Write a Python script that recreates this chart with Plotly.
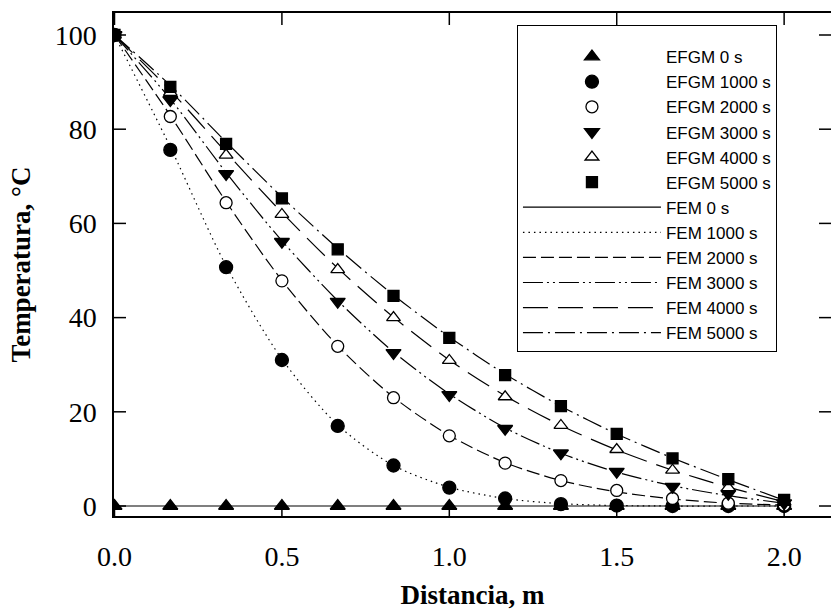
import plotly.graph_objects as go

# Node positions along the bar (m)
distancia = [0.0, 0.1667, 0.3333, 0.5, 0.6667, 0.8333, 1.0,
             1.1667, 1.3333, 1.5, 1.6667, 1.8333, 2.0]

# EFGM temperatures (°C) at each node
efgm_0 = [0, 0, 0, 0, 0, 0, 0, 0, 0, 0, 0, 0, 0]
efgm_1000 = [100, 75.6, 50.7, 31.0, 17.0, 8.6, 3.9, 1.6, 0.4, 0.1, 0.0, 0.0, 0.0]
efgm_2000 = [100, 82.7, 64.4, 47.8, 33.9, 23.0, 14.9, 9.1, 5.4, 3.3, 1.6, 0.6, 0.2]
efgm_3000 = [100, 86.2, 70.5, 56.1, 43.4, 32.5, 23.6, 16.4, 11.2, 7.3, 4.1, 2.6, 0.6]
efgm_4000 = [100, 87.8, 74.5, 61.9, 50.2, 40.0, 30.9, 23.2, 17.1, 12.0, 7.6, 3.9, 0.9]
efgm_5000 = [100, 89.0, 76.9, 65.3, 54.5, 44.6, 35.7, 27.8, 21.2, 15.3, 10.1, 5.7, 1.3]

# FEM temperatures (°C) at each node
fem_0 = [0, 0, 0, 0, 0, 0, 0, 0, 0, 0, 0, 0, 0]
fem_1000 = [100, 76.2, 51.0, 31.2, 17.2, 8.6, 4.0, 1.6, 0.5, 0.1, 0.0, 0.0, 0.0]
fem_2000 = [100, 82.9, 64.6, 47.9, 34.0, 23.1, 15.0, 9.2, 5.4, 3.0, 1.5, 0.6, 0.2]
fem_3000 = [100, 86.4, 70.8, 56.3, 43.6, 32.7, 23.8, 16.6, 11.2, 7.2, 4.3, 2.2, 0.6]
fem_4000 = [100, 88.2, 75.1, 62.3, 50.5, 40.1, 31.0, 23.4, 17.1, 11.9, 7.6, 4.0, 0.9]
fem_5000 = [100, 89.3, 77.3, 65.6, 54.7, 44.8, 35.9, 28.0, 21.2, 15.3, 10.2, 5.6, 1.2]

x_ticks = [0.0, 0.5, 1.0, 1.5, 2.0]
x_tick_text = ["0.0", "0.5", "1.0", "1.5", "2.0"]
y_ticks = [0, 20, 40, 60, 80, 100]
y_tick_text = ["0", "20", "40", "60", "80", "100"]

BLACK = "black"
SERIF = "Liberation Serif"
SANS = "Liberation Sans"

WIDTH, HEIGHT = 831, 610
MARGIN = dict(l=114, r=0, t=13, b=94)
TICK_LEN = 12  # px, tick marks point into the plot area on every side

fig = go.Figure()

fem_series = [
    ("FEM 0 s", fem_0, "solid"),
    ("FEM 1000 s", fem_1000, "1.5px,4px"),
    ("FEM 2000 s", fem_2000, "13px,5px"),
    ("FEM 3000 s", fem_3000, "20px,4px,2px,4px,2px,4px"),
    ("FEM 4000 s", fem_4000, "25px,10px"),
    ("FEM 5000 s", fem_5000, "20px,5px,2px,5px"),
]
for k, (name, vals, dash) in enumerate(fem_series):
    fig.add_trace(go.Scatter(
        x=distancia, y=vals, name=name, mode="lines",
        line=dict(color=BLACK, width=1.2, dash=dash, shape="spline", smoothing=0.8),
        legendrank=100 + k,
    ))

efgm_series = [
    ("EFGM 0 s", efgm_0, "triangle-up", BLACK, 13),
    ("EFGM 1000 s", efgm_1000, "circle", BLACK, 13),
    ("EFGM 2000 s", efgm_2000, "circle", "white", 12),
    ("EFGM 3000 s", efgm_3000, "triangle-down", BLACK, 13),
    ("EFGM 4000 s", efgm_4000, "triangle-up", "white", 12),
    ("EFGM 5000 s", efgm_5000, "square", BLACK, 11),
]
for k, (name, vals, sym, fill, size) in enumerate(efgm_series):
    fig.add_trace(go.Scatter(
        x=distancia, y=vals, name=name, mode="markers",
        marker=dict(symbol=sym, size=size, color=fill,
                    line=dict(color=BLACK, width=1.3)),
        legendrank=k,
    ))

# Inward tick marks on all four sides of the frame
plot_w = WIDTH - MARGIN["l"] - MARGIN["r"]
plot_h = HEIGHT - MARGIN["t"] - MARGIN["b"]
fx = TICK_LEN / plot_w
fy = TICK_LEN / plot_h
tick_line = dict(color=BLACK, width=1.5)
for v in x_ticks:
    fig.add_shape(type="line", xref="x", yref="y domain",
                  x0=v, x1=v, y0=0, y1=fy, line=tick_line)
    fig.add_shape(type="line", xref="x", yref="y domain",
                  x0=v, x1=v, y0=1 - fy, y1=1, line=tick_line)
for v in y_ticks:
    fig.add_shape(type="line", xref="x domain", yref="y",
                  x0=0, x1=fx, y0=v, y1=v, line=tick_line)
    fig.add_shape(type="line", xref="x domain", yref="y",
                  x0=1 - fx, x1=1, y0=v, y1=v, line=tick_line)

fig.update_layout(
    width=WIDTH, height=HEIGHT,
    margin=MARGIN,
    paper_bgcolor="white", plot_bgcolor="white",
    font=dict(family=SERIF, color=BLACK),
    showlegend=True,
    legend=dict(
        x=0.562, y=0.976, xanchor="left", yanchor="top",
        bgcolor="white", bordercolor=BLACK, borderwidth=1,
        font=dict(family=SANS, size=17, color=BLACK),
        title=dict(text=" ", font=dict(size=10)),
        itemwidth=138,
    ),
    xaxis=dict(
        range=[-0.0015, 2.140],
        tickmode="array", tickvals=x_ticks, ticktext=x_tick_text,
        ticks="", showgrid=False, zeroline=False,
        showline=True, linecolor=BLACK, linewidth=1.5, mirror=True,
        tickfont=dict(family=SERIF, size=28),
        ticklabelstandoff=15,
        title=dict(text="<b>Distancia, m</b>", font=dict(family=SERIF, size=27), standoff=20),
    ),
    yaxis=dict(
        range=[-2.12, 104.67],
        tickmode="array", tickvals=y_ticks, ticktext=y_tick_text,
        ticks="", showgrid=False, zeroline=False,
        showline=True, linecolor=BLACK, linewidth=1.5, mirror=False,
        tickfont=dict(family=SERIF, size=28),
        ticklabelstandoff=10,
        title=dict(text="<b>Temperatura, °C</b>", font=dict(family=SERIF, size=27), standoff=16),
    ),
)

fig.write_html("out.html")
